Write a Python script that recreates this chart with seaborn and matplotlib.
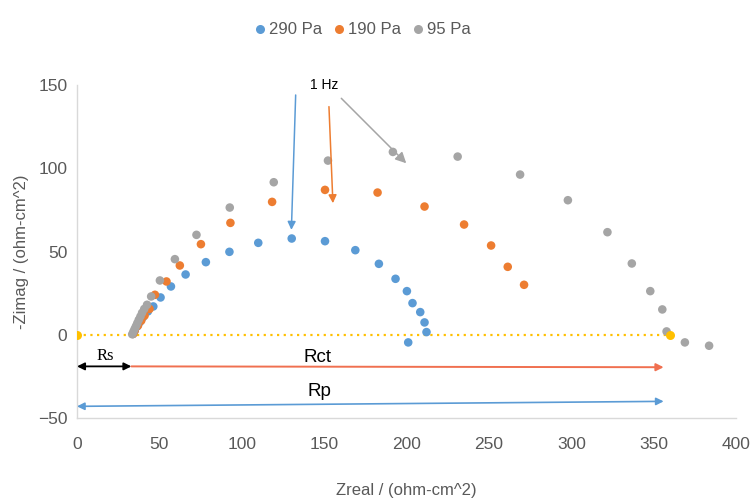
import matplotlib
matplotlib.use("Agg")
import matplotlib.pyplot as plt
from matplotlib.lines import Line2D
import seaborn as sns
import pandas as pd

# ---- data ----
series_names = ["290 Pa", "190 Pa", "95 Pa"]
colors = ["#5B9BD5", "#ED7D31", "#A5A5A5"]

x_290 = [34, 35, 36.5, 38, 40, 43, 46.3, 50.7, 57, 65.9, 78.2, 92.5, 110, 130.3, 150.5,
         168.9, 183.2, 193.3, 200.2, 203.6, 208.3, 210.9, 212.1, 201]
y_290 = [0.5, 2.5, 5, 7.5, 10.5, 14, 17, 22.4, 29, 36.2, 43.6, 49.8, 55.2, 57.8, 56.2,
         50.8, 42.6, 33.6, 26.2, 19, 13.6, 7.4, 1.6, -4.6]

x_190 = [34, 35, 37, 39, 41, 44, 47.3, 54.3, 62.4, 75.2, 93.1, 118.4, 150.5, 182.4,
         210.9, 234.9, 251.3, 261.4, 271.3]
y_190 = [0.5, 2.5, 5.5, 8.5, 11.5, 15.5, 24, 32, 41.6, 54.4, 67.2, 79.8, 87, 85.4,
         77, 66.2, 53.6, 40.8, 30]

x_95 = [33.5, 34.2, 35, 35.8, 36.6, 37.5, 38.5, 39.5, 40.8, 42.5, 45, 50.3, 59.4, 72.5,
        92.7, 119.4, 152.3, 191.7, 231, 268.9, 297.9, 321.9, 336.7, 347.9, 355.2,
        357.8, 368.9, 383.6]
y_95 = [0.3, 1.8, 3.5, 5.2, 7, 9, 11, 13.2, 15.5, 18, 23, 32.6, 45.4, 60, 76.4, 91.6,
        104.6, 109.8, 107, 96.2, 80.8, 61.6, 42.8, 26.2, 15.2, 2, -4.6, -6.6]

# reference line (Rs..Rp endpoints)
ref_x = [0, 359.8]
ref_y = [0, 0]

x_ticks = [0, 50, 100, 150, 200, 250, 300, 350, 400]
y_ticks = [-50, 0, 50, 100, 150]

df = pd.concat([
    pd.DataFrame({"Zreal": x_290, "Zimag": y_290, "series": series_names[0]}),
    pd.DataFrame({"Zreal": x_190, "Zimag": y_190, "series": series_names[1]}),
    pd.DataFrame({"Zreal": x_95, "Zimag": y_95, "series": series_names[2]}),
], ignore_index=True)

sns.set_theme(style="white")
FONT = ["Liberation Sans", "DejaVu Sans"]
plt.rcParams["font.family"] = FONT

fig = plt.figure(figsize=(7.55, 5.0), dpi=100)
ax = fig.add_axes([0.102, 0.164, 0.873, 0.666])

# reference dotted line
ax.plot(ref_x, ref_y, linestyle=(0, (1, 2)), color="#FFC000", lw=1.6, zorder=1)

sns.scatterplot(data=df, x="Zreal", y="Zimag", hue="series", hue_order=series_names,
                palette=colors, s=38, linewidth=0, edgecolor="none", ax=ax,
                legend=False, zorder=3)

ax.scatter(ref_x, ref_y, color="#FFC000", s=42, zorder=4, linewidth=0)

ax.set_xlim(0, 400)
ax.set_ylim(-50, 150)
ax.set_xticks(x_ticks)
ax.set_yticks(y_ticks)
ax.tick_params(axis="both", labelsize=12.5, labelcolor="#595959", length=0)
ax.tick_params(axis="x", pad=14)
ax.tick_params(axis="y", pad=7)
for s in ["top", "right"]:
    ax.spines[s].set_visible(False)
for s in ["left", "bottom"]:
    ax.spines[s].set_color("#D9D9D9")
    ax.spines[s].set_linewidth(1.0)

ax.set_xlabel("Zreal / (ohm-cm^2)", fontsize=12, color="#595959", labelpad=22)
ax.set_ylabel("-Zimag / (ohm-cm^2)", fontsize=12, color="#595959", labelpad=6)

# 1 Hz annotations
ax.text(150.3, 150, "1 Hz", fontsize=10, color="black", ha="center", va="center")
arrow_kw = dict(arrowstyle="-|>", mutation_scale=12, lw=1.1, shrinkA=0, shrinkB=0)
ax.annotate("", xy=(130.1, 63), xytext=(132.7, 144),
            arrowprops=dict(color="#5B9BD5", **arrow_kw))
ax.annotate("", xy=(155.3, 79), xytext=(152.9, 137),
            arrowprops=dict(color="#ED7D31", **arrow_kw))
ax.annotate("", xy=(199.8, 103), xytext=(160.4, 142),
            arrowprops=dict(arrowstyle="-|>", mutation_scale=16, lw=1.1, shrinkA=0,
                            shrinkB=0, color="#A5A5A5"))

# Rs / Rct / Rp
ax.annotate("", xy=(0, -19), xytext=(33, -19),
            arrowprops=dict(arrowstyle="<|-|>", color="black", lw=1.3,
                            mutation_scale=11, shrinkA=0, shrinkB=0))
ax.annotate("", xy=(356, -19.5), xytext=(33, -19),
            arrowprops=dict(arrowstyle="-|>", color="#F07050", lw=1.4,
                            mutation_scale=11, shrinkA=0, shrinkB=0))
ax.annotate("", xy=(356, -40), xytext=(0, -43),
            arrowprops=dict(arrowstyle="<|-|>", color="#5B9BD5", lw=1.2,
                            mutation_scale=11, shrinkA=0, shrinkB=0))
ax.text(17, -13, "Rs", fontsize=12, family=["Liberation Serif", "DejaVu Serif"],
        ha="center", va="center", color="black")
ax.text(146, -13.5, "Rct", fontsize=13.5, ha="center", va="center", color="black")
ax.text(147, -34, "Rp", fontsize=13.5, ha="center", va="center", color="black")

# legend on top
handles = [Line2D([0], [0], marker="o", linestyle="none", markersize=6.5,
                  markerfacecolor=c, markeredgecolor="none") for c in colors]
fig.legend(handles, series_names, loc="center", bbox_to_anchor=(0.481, 0.94),
           ncol=3, frameon=False, fontsize=12, handletextpad=0.25,
           handlelength=0.6, columnspacing=0.7, labelcolor="#595959")

fig.savefig("out.png", dpi=100)
